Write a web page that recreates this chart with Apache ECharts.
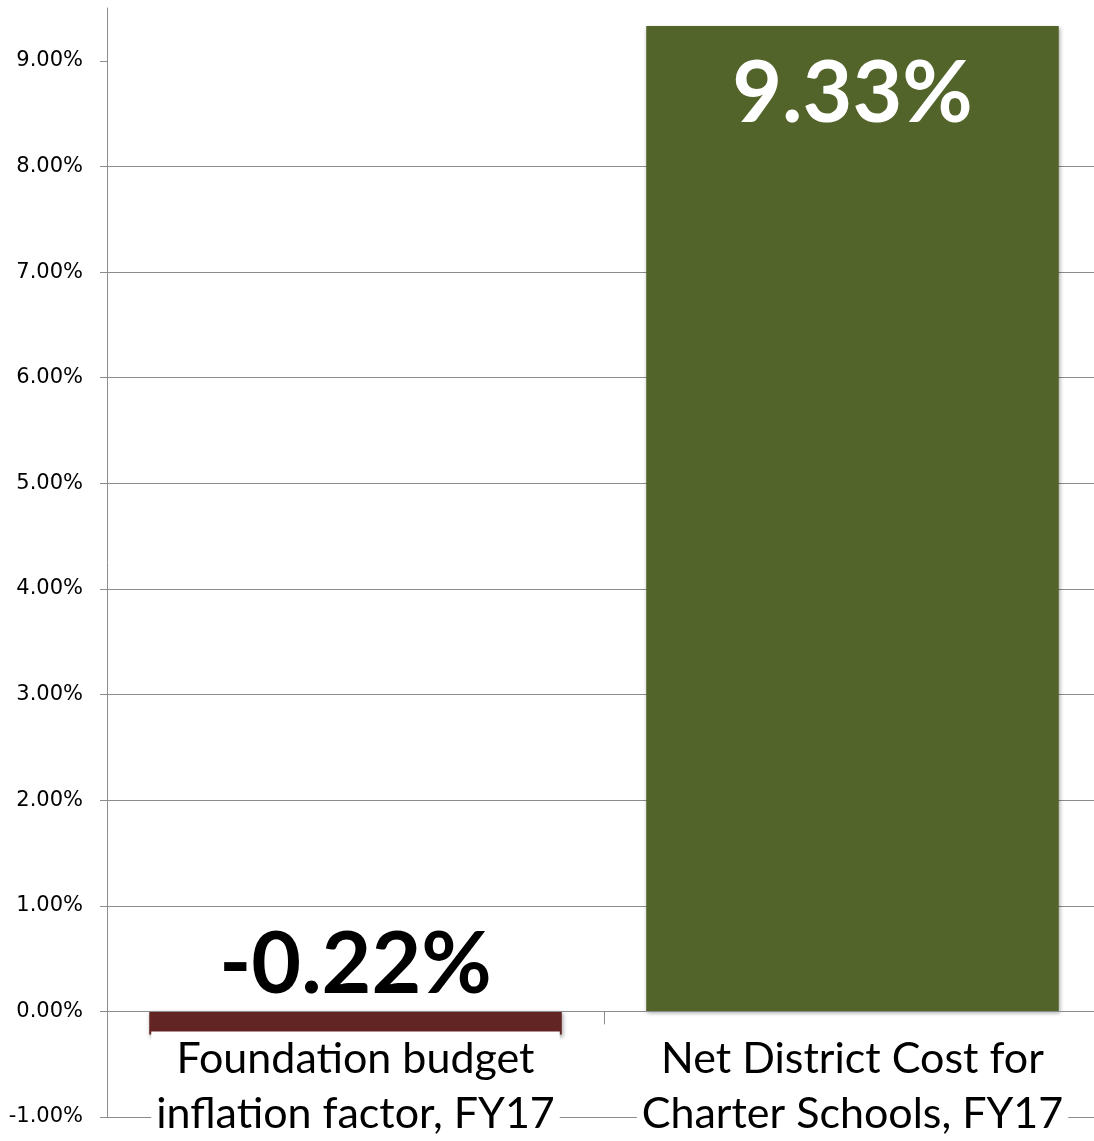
<!DOCTYPE html>
<html><head><meta charset="utf-8">
<script src="https://cdn.jsdelivr.net/npm/echarts@6/dist/echarts.min.js"></script>
<style>html,body{margin:0;padding:0;background:#fff}#c{width:1094px;height:1141px}</style>
</head><body><div id="c"></div>
<script>
const categories = ['Foundation budget\ninflation factor, FY17', 'Net District Cost for\nCharter Schools, FY17'];
const values = [-0.22, 9.33];
const barColors = ['#632523', '#52642A'];
const yTicks = [-1, 0, 1, 2, 3, 4, 5, 6, 7, 8, 9];
const yMin = -1, yMax = 9.5;

const H = 1141, gridTop = 8, gridBottom = 24;
const pxPerUnit = (H - gridTop - gridBottom) / (yMax - yMin);
const zeroOffset = -(0 - yMin) * pxPerUnit;

const chart = echarts.init(document.getElementById('c'), null, {renderer: 'canvas'});
chart.setOption({
  animation: false,
  backgroundColor: '#fff',
  grid: {left: 107, right: -7, top: gridTop, bottom: gridBottom, containLabel: false, outerBoundsMode: 'none'},
  xAxis: {
    type: 'category',
    data: categories,
    position: 'bottom',
    offset: zeroOffset,
    z: 5,
    axisLine: {onZero: false, lineStyle: {color: '#8c8c8c', width: 1}},
    axisTick: {show: true, length: 13, lineStyle: {color: '#8c8c8c'}},
    axisLabel: {
      interval: 0, hideOverlap: false,
      margin: 20,
      fontFamily: 'Lato', fontSize: 43, color: '#000', lineHeight: 55,
      backgroundColor: '#fff', padding: [0, 5, 0, 5]
    }
  },
  yAxis: {
    type: 'value',
    min: yMin, max: yMax, interval: 1,
    axisLine: {show: true, lineStyle: {color: '#8c8c8c', width: 1}},
    axisTick: {show: true, length: 7, inside: false, lineStyle: {color: '#8c8c8c'}, customValues: yTicks},
    axisLabel: {
      margin: 24, fontFamily: 'DejaVu Sans', fontSize: 21, color: '#000',
      customValues: yTicks,
      formatter: v => v.toFixed(2) + '%'
    },
    splitLine: {show: true, showMaxLine: false, lineStyle: {color: '#8c8c8c', width: 1}}
  },
  series: [{
    type: 'bar',
    barWidth: '83%',
    data: values.map((v, i) => ({
      value: v,
      itemStyle: {color: barColors[i], shadowBlur: 4, shadowColor: 'rgba(0,0,0,0.35)', shadowOffsetX: 1, shadowOffsetY: 2},
      label: v < 0
        ? {show: true, position: 'top', distance: 3, color: '#000'}
        : {show: true, position: 'insideTop', distance: 25, color: '#fff'}
    })),
    label: {
      fontFamily: 'Lato', fontWeight: 'bold', fontSize: 86, lineHeight: 86,
      formatter: p => p.value.toFixed(2) + '%'
    }
  }]
});
</script></body></html>
